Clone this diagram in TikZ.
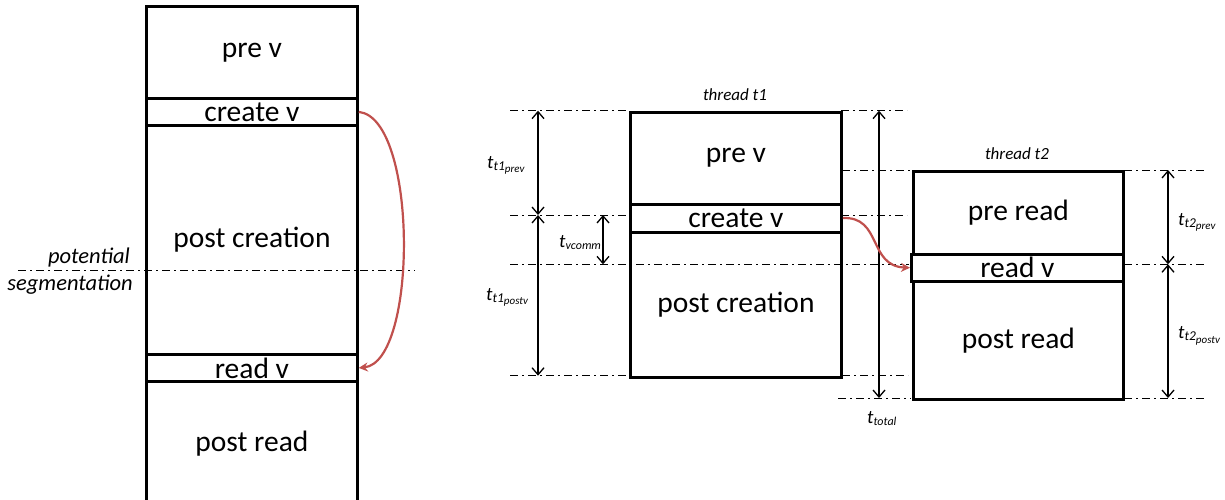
\documentclass[tikz,border=0pt]{standalone}
\usepackage{fontspec}
\setmainfont{Carlito}
\usetikzlibrary{arrows.meta}
\definecolor{flowred}{RGB}{192,80,77}
% time label: t with a subscript and an optional second-level subscript
\newcommand{\tsub}[2]{\textit{t}\raisebox{-0.25ex}{\fontsize{13.5}{14}\selectfont\textit{#1}}\raisebox{-0.55ex}{\fontsize{11}{12}\selectfont\textit{#2}}}
\newcommand{\tone}[1]{\textit{t}\raisebox{-0.3ex}{\fontsize{12}{13}\selectfont\textit{#1}}}
\begin{document}
\begin{tikzpicture}[x=1pt,y=-1pt,
  seg/.style={draw, line width=2.8pt, inner sep=0pt, anchor=north west,
    font=\fontsize{29.5}{31}\selectfont},
  guide/.style={line width=0.9pt, dash pattern=on 8pt off 4pt on 2pt off 4pt},
  span/.style={line width=1.3pt, {Straight Barb[length=7pt,width=12pt]}-{Straight Barb[length=7pt,width=12pt]}},
  flow/.style={draw=flowred, line width=2.2pt, -{Stealth[length=9pt,width=9pt]}},
  caption/.style={font=\itshape\fontsize{17}{18}\selectfont},
  side/.style={font=\itshape\fontsize{22.5}{24}\selectfont, anchor=base east, inner sep=0pt},
  tlabel/.style={font=\fontsize{19}{20}\selectfont, anchor=base west, inner sep=0pt}]
\useasboundingbox (0,0) rectangle (1225,499);

% ---- single thread ----
\node[seg, minimum width=211pt, minimum height=92pt]  (lpre)  at (145,5)   {pre v};
\node[seg, minimum width=211pt, minimum height=27pt]  (lcre)  at (145,97)  {create v};
\node[seg, minimum width=211pt, minimum height=229pt] (lpost) at (145,124) {post creation};
\node[seg, minimum width=211pt, minimum height=27pt]  (lread) at (145,353) {read v};
\node[seg, minimum width=211pt, minimum height=125pt] (lpr)   at (145,380) {post read};

\coordinate (sgA) at (18,270);
\coordinate (sgB) at (415,270);
\draw[guide] (sgA) -- (sgB);
\node[side] (pot) at (130,263) {potential};
\node[side] (sgm) at (133,290) {segmentation};

\draw[flow] (lcre.east) .. controls (418,118) and (418,362) .. (lread.east);

% ---- two threads ----
\node[caption] (cap1) at (735,95) {thread t1};
\node[seg, minimum width=211pt, minimum height=92pt]  (apre)  at (629,110.7) {pre v};
\node[seg, minimum width=211pt, minimum height=28pt]  (acre)  at (629,202.7) {create v};
\node[seg, minimum width=211pt, minimum height=145pt] (apost) at (629,230.7) {post creation};

\node[caption] (cap2) at (1017,154) {thread t2};
\node[seg, minimum width=210pt, minimum height=82.7pt] (bpre)  at (912,170)   {pre read};
\node[seg, minimum width=212pt, minimum height=27.3pt] (bread) at (910,252.7) {read v};
\node[seg, minimum width=210pt, minimum height=118pt]  (bpost) at (912,280)   {post read};

% guide lines
\coordinate (g1a) at (510,110.7); \coordinate (g1b) at (627,110.7);
\coordinate (g1c) at (841,110.7); \coordinate (g1d) at (907,110.7);
\coordinate (g2a) at (510,215);   \coordinate (g2b) at (627,215);
\coordinate (g2c) at (841,215);   \coordinate (g2d) at (907,215);
\coordinate (g3a) at (510,264.3); \coordinate (g3b) at (909,264.3);
\coordinate (g3c) at (1124,264.3); \coordinate (g3d) at (1205,264.3);
\coordinate (g4a) at (842,170);   \coordinate (g4b) at (911,170);
\coordinate (g4c) at (1124,170);  \coordinate (g4d) at (1205,170);
\coordinate (g5a) at (510,375.7); \coordinate (g5b) at (627,375.7);
\coordinate (g5c) at (842,375.7); \coordinate (g5d) at (908,375.7);
\coordinate (g6a) at (838,398);   \coordinate (g6b) at (911,398);
\coordinate (g6c) at (1124,398);  \coordinate (g6d) at (1205,398);
\foreach \p in {1,...,6}{
  \draw[guide] (g\p a) -- (g\p b);
  \draw[guide] (g\p c) -- (g\p d);
}

% durations
\coordinate (d1a) at (538,110.7); \coordinate (d1b) at (538,215);
\coordinate (d2b) at (538,375.7);
\coordinate (dva) at (603,215);   \coordinate (dvb) at (603,264.3);
\coordinate (dta) at (879,110.7); \coordinate (dtb) at (879,398);
\coordinate (d3a) at (1168,170);  \coordinate (d3b) at (1168,264.3);
\coordinate (d3c) at (1168,398);
\draw[span] (d1a) -- (d1b);
\draw[span] (d1b) -- (d2b);
\draw[span] (dva) -- (dvb);
\draw[span] (dta) -- (dtb);
\draw[span] (d3a) -- (d3b);
\draw[span] (d3b) -- (d3c);

\node[tlabel] (l1) at (487,168)  {\tsub{t1}{prev}};
\node[tlabel] (l2) at (486,300)  {\tsub{t1}{postv}};
\node[tlabel] (l3) at (559,247)  {\tone{vcomm}};
\node[tlabel] (l4) at (867,423)  {\tone{total}};
\node[tlabel] (l5) at (1178,225) {\tsub{t2}{prev}};
\node[tlabel] (l6) at (1178,338) {\tsub{t2}{postv}};

\draw[flow] (acre.east) .. controls (882,216) and (868,266) .. (bread.west);
\end{tikzpicture}
\end{document}
